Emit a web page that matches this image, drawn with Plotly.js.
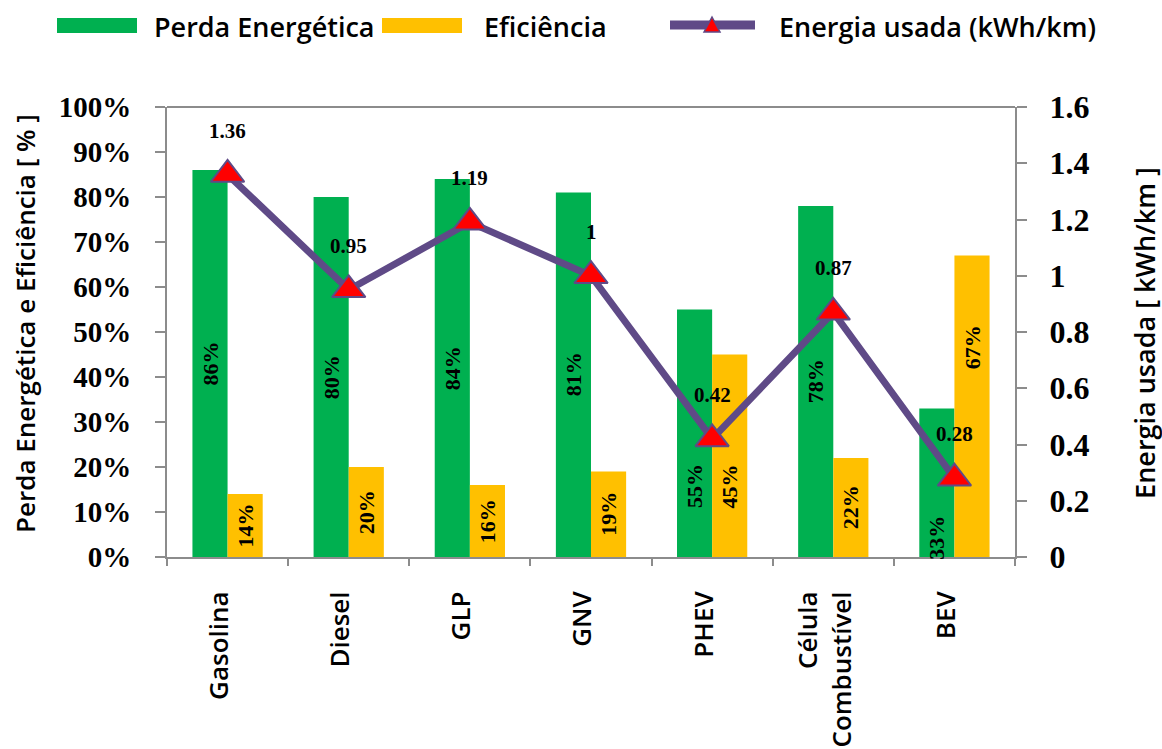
<!DOCTYPE html>
<html>
<head>
<meta charset="utf-8">
<script src="https://cdn.plot.ly/plotly-3.0.1.min.js"></script>
<style>
  html, body { margin: 0; padding: 0; background: #fff; }
  #chart { width: 1162px; height: 749px; }
</style>
</head>
<body>
<div id="chart"></div>
<script>
// Vehicle technologies compared
const categories = ['Gasolina', 'Diesel', 'GLP', 'GNV', 'PHEV', 'Célula<br>Combustível', 'BEV'];

// Energy loss and efficiency, in percent
const perdaEnergetica = [86, 80, 84, 81, 55, 78, 33];
const eficiencia = [14, 20, 16, 19, 45, 22, 67];

// Energy used, kWh per km
const energiaUsada = [1.36, 0.95, 1.19, 1, 0.42, 0.87, 0.28];

// Series names
const seriesNames = ['Perda Energética', 'Eficiência', 'Energia usada (kWh/km)'];
const axisTitles = ['Perda Energética e Eficiência [ % ]', 'Energia usada [ kWh/km ]'];

// Styling
const GREEN = '#00b050';
const YELLOW = '#ffc000';
const PURPLE = '#5f4a87';
const RED = '#ff0000';
const AXIS = '#8c8c8c';
const SERIF = 'Liberation Serif, Times New Roman, serif';
const SANS = 'Open Sans, sans-serif';
const SANS_WEIGHT = 600;

// Vertical nudges (px) for the in-bar labels that sit away from the bar centre
const perdaLabelShift = [0, 0, 0, 0, -53, 0, -55];
const eficLabelShift = [0, 0, 0, 0, -31, 0, 59];

const traces = [
  {
    type: 'bar', name: seriesNames[0], x: categories, y: perdaEnergetica,
    marker: { color: GREEN }, hoverinfo: 'skip'
  },
  {
    type: 'bar', name: seriesNames[1], x: categories, y: eficiencia,
    marker: { color: YELLOW }, hoverinfo: 'skip'
  },
  {
    type: 'scatter', mode: 'lines+markers', name: seriesNames[2],
    x: categories, y: energiaUsada, yaxis: 'y2',
    line: { color: PURPLE, width: 7 },
    marker: { symbol: 'triangle-up', size: 29, color: RED, line: { color: PURPLE, width: 2 } },
    hoverinfo: 'skip'
  }
];

const annotations = [];

// Percent labels inside the bars
categories.forEach((c, i) => {
  annotations.push({
    x: c, xref: 'x', y: perdaEnergetica[i] / 2, yref: 'y',
    xshift: -17.5, yshift: perdaLabelShift[i],
    text: perdaEnergetica[i] + '%', textangle: -90, showarrow: false,
    font: { family: SERIF, size: 22, color: '#000', weight: 'bold' }
  });
  annotations.push({
    x: c, xref: 'x', y: eficiencia[i] / 2, yref: 'y',
    xshift: 17.5, yshift: eficLabelShift[i],
    text: eficiencia[i] + '%', textangle: -90, showarrow: false,
    font: { family: SERIF, size: 22, color: '#000', weight: 'bold' }
  });
  // Energy value above each marker
  annotations.push({
    x: c, xref: 'x', y: energiaUsada[i], yref: 'y2',
    yshift: 44,
    text: String(energiaUsada[i]), showarrow: false,
    font: { family: SERIF, size: 21, color: '#000', weight: 'bold' }
  });
});

// Axis titles
annotations.push({
  x: -0.1675, xref: 'paper', y: 0.52, yref: 'paper', xanchor: 'center', yanchor: 'middle',
  text: axisTitles[0], textangle: -90, showarrow: false,
  font: { family: SANS, size: 26, color: '#000', weight: SANS_WEIGHT }
});
annotations.push({
  x: 1.1533, xref: 'paper', y: 0.498, yref: 'paper', xanchor: 'center', yanchor: 'middle',
  text: axisTitles[1], textangle: -90, showarrow: false,
  font: { family: SANS, size: 27, color: '#000', weight: SANS_WEIGHT }
});

// Legend text
const legendFont = { family: SANS, size: 27, color: '#000', weight: SANS_WEIGHT };
[[-0.0177, seriesNames[0]], [0.3715, seriesNames[1]], [0.7193, seriesNames[2]]].forEach(([x, t]) => {
  annotations.push({
    x: x, xref: 'paper', y: 1.1778, yref: 'paper', xanchor: 'left', yanchor: 'middle',
    text: t, showarrow: false, font: legendFont
  });
});

// px -> paper helpers for the legend keys
const L = 167, W = 848, B = 557, H = 450;
const px = v => (v - L) / W;
const py = v => (B - v) / H;

const shapes = [
  // top border of the plot area
  { type: 'line', xref: 'paper', yref: 'paper', x0: 0, x1: 1, y0: 1, y1: 1,
    line: { color: AXIS, width: 2 } },
  // legend keys
  { type: 'rect', xref: 'paper', yref: 'paper', x0: px(57), x1: px(137), y0: py(33), y1: py(18),
    fillcolor: GREEN, line: { width: 0 } },
  { type: 'rect', xref: 'paper', yref: 'paper', x0: px(382), x1: px(462), y0: py(33), y1: py(18),
    fillcolor: YELLOW, line: { width: 0 } },
  { type: 'line', xref: 'paper', yref: 'paper', x0: px(670), x1: px(755), y0: py(25), y1: py(25),
    line: { color: PURPLE, width: 9 } },
  { type: 'path', xref: 'paper', yref: 'paper',
    path: `M ${px(704)},${py(32)} L ${px(712)},${py(17)} L ${px(720)},${py(32)} Z`,
    fillcolor: RED, line: { color: PURPLE, width: 1.5 } }
];

const layout = {
  width: 1162, height: 749,
  margin: { l: L, r: 1162 - L - W, t: B - H, b: 749 - B, pad: 0 },
  paper_bgcolor: '#fff', plot_bgcolor: '#fff',
  showlegend: false,
  barmode: 'group', bargap: 0.42, bargroupgap: 0,
  xaxis: {
    type: 'category', range: [-0.5, 6.5], fixedrange: true,
    showline: true, linecolor: AXIS, linewidth: 2,
    ticks: 'outside', tickson: 'boundaries', ticklen: 7, tickwidth: 2, tickcolor: AXIS,
    tickangle: -90, ticklabelstandoff: 22, ticklabelshift: -8,
    tickfont: { family: SANS, size: 26, color: '#000', weight: SANS_WEIGHT },
    showgrid: false, zeroline: false
  },
  yaxis: {
    range: [0, 100], dtick: 10, ticksuffix: '%', fixedrange: true,
    showline: true, linecolor: AXIS, linewidth: 2,
    ticks: 'outside', ticklen: 10, tickwidth: 2, tickcolor: AXIS,
    ticklabelstandoff: 18,
    tickfont: { family: SERIF, size: 29, color: '#000', weight: 'bold' },
    showgrid: false, zeroline: false
  },
  yaxis2: {
    overlaying: 'y', side: 'right', range: [0, 1.6], dtick: 0.2, fixedrange: true,
    showline: true, linecolor: AXIS, linewidth: 2,
    ticks: 'outside', ticklen: 10, tickwidth: 2, tickcolor: AXIS,
    ticklabelstandoff: 16,
    tickfont: { family: SERIF, size: 32, color: '#000', weight: 'bold' },
    showgrid: false, zeroline: false
  },
  annotations: annotations,
  shapes: shapes
};

Plotly.newPlot('chart', traces, layout, { displayModeBar: false, staticPlot: true });
</script>
</body>
</html>
